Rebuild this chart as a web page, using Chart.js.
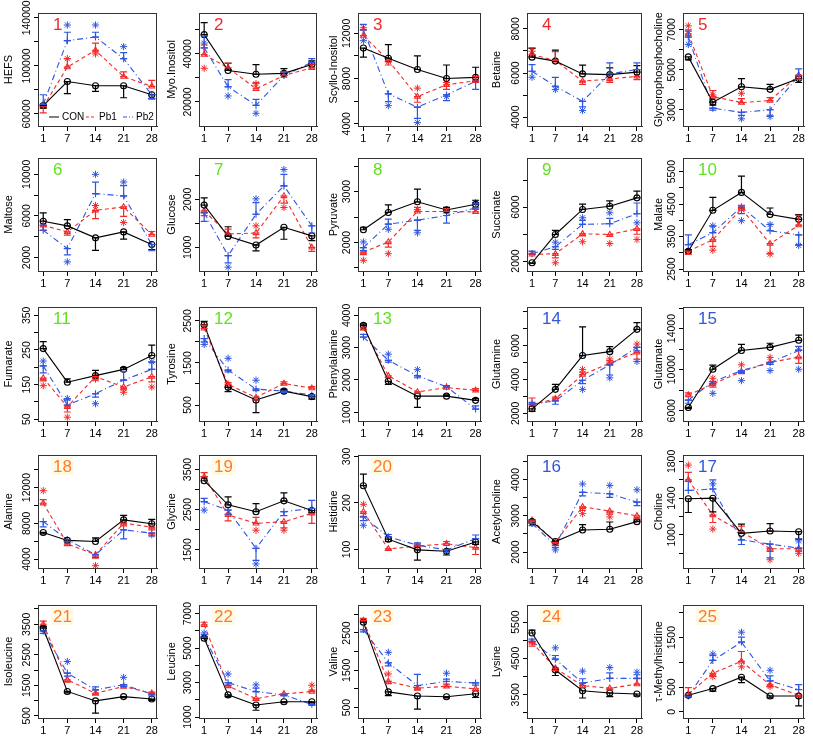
<!DOCTYPE html>
<html>
<head>
<meta charset="utf-8">
<script src="https://cdn.jsdelivr.net/npm/chart.js@4.4.0/dist/chart.umd.min.js"></script>
<style>
body{margin:0;background:#fff}
#wrap{position:relative;width:813px;height:738px;overflow:hidden}
.cell{position:absolute}
</style>
</head>
<body>
<div id="wrap"></div>
<script>
// days of sampling
const days = [1, 7, 14, 21, 28];
// panels in grid order (row by row)
const panelNo = [1,2,3,4,5, 6,7,8,9,10, 11,12,13,14,15, 18,19,20,16,17, 21,22,23,24,25];
const names = ['HEFS','Myo.Inositol','Scyllo-Inositol','Betaine','Glycerophosphocholine',
  'Maltose','Glucose','Pyruvate','Succinate','Malate',
  'Fumarate','Tyrosine','Phenylalanine','Glutamine','Glutamate',
  'Alanine','Glycine','Histidine','Acetylcholine','Choline',
  'Isoleucine','Leucine','Valine','Lysine','τ-Methylhistidine'];

const yMin = [50000,10000,3800,3600,2200, 700,510,1440,1260,2440, 45,120,730,1550,5000, 3000,1050,60,1560,640, 430,950,220,2860,-125];
const yMax = [144000,57000,13800,8720,7840, 11570,2860,3660,9650,5920, 374,2830,4260,8290,16100, 15650,3860,303,4680,1870, 4130,7500,3250,5970,2160];

const yTicks = [
  [60000,80000,100000,120000,140000],[20000,30000,40000,50000],[4000,6000,8000,10000,12000],[4000,5000,6000,7000,8000],[3000,4000,5000,6000,7000],
  [2000,4000,6000,8000,10000],[1000,1500,2000,2500],[1500,2000,2500,3000,3500],[2000,4000,6000,8000],[2500,3000,3500,4000,4500,5000,5500],
  [50,100,150,200,250,300,350],[500,1000,1500,2000,2500],[1000,2000,3000,4000],[2000,3000,4000,5000,6000,7000,8000],[6000,8000,10000,12000,14000,16000],
  [4000,6000,8000,10000,12000,14000],[1500,2000,2500,3000,3500],[100,200,300],[2000,2500,3000,3500,4000,4500],[800,1000,1200,1400,1600,1800],
  [500,1000,1500,2000,2500,3000,3500,4000],[1000,2000,3000,4000,5000,6000,7000],[500,1000,1500,2000,2500,3000],[3000,3500,4000,4500,5000,5500],[0,500,1000,1500,2000]
];
const yLabels = [
  ['60000','','100000','','140000'],['20000','','40000',''],['4000','','8000','','12000'],['4000','','6000','','8000'],['3000','','5000','','7000'],
  ['2000','','6000','','10000'],['1000','','2000',''],['','2000','','3000',''],['2000','','6000',''],['2500','','3500','','4500','','5500'],
  ['50','','150','','250','','350'],['500','','1500','','2500'],['1000','2000','3000','4000'],['2000','','4000','','6000','',''],['6000','','10000','','14000',''],
  ['4000','','8000','','12000',''],['1500','','2500','','3500'],['100','200','300'],['2000','','3000','','4000',''],['','1000','','1400','','1800'],
  ['500','','1500','','2500','','3500',''],['1000','','3000','','5000','','7000'],['500','','1500','','2500',''],['','3500','','4500','','5500'],['0','500','','1500','']
];

// CON
const conMean = [
  [67000,87000,83500,83500,76000],[48000,33100,31500,31900,35600],[10700,9800,8800,8000,8100],[6720,6540,5960,5930,6040],[5650,3390,4160,4030,4570],
  [5490,5040,3890,4460,3250],[1880,1230,1050,1420,1240],[2250,2590,2800,2640,2750],[1870,3970,5830,6070,6690],[3050,4310,4860,4180,4030],
  [254,157,176,194,234],[2410,920,620,830,700],[3690,1960,1500,1500,1370],[2270,3420,5420,5650,6970],[6320,10040,11870,12170,12860],
  [6980,6090,5970,8390,7950],[3220,2620,2450,2720,2480],[237,122,99,96,116],[2840,2290,2610,2630,2840],[1394,1400,1017,1043,1035],
  [3370,1300,990,1130,1050],[5570,2290,1700,1890,1890],[2790,920,810,790,870],[5200,4180,3610,3550,3520],[335,470,700,320,320]
];
const conErr = [
  [-2000,-10000,-4700,-10000,-3500],[5000,3000,4000,2000,1500],[-800,1200,1200,1200,900],[400,500,400,300,300],[-150,-150,400,250,-200],
  [800,600,-1200,-700,-500],[150,200,-120,-250,-100],[50,150,250,50,80],[-50,300,400,400,500],[50,400,500,200,150],
  [20,10,15,5,30],[80,-100,-300,40,-60],[50,-100,-350,40,50],[-150,300,1700,300,400],[-100,400,600,400,500],
  [-150,-100,400,500,500],[100,200,200,200,-50],[25,-5,-22,-8,-5],[50,-40,150,200,50],[-150,-150,100,80,-80],
  [50,-50,-400,-30,-40],[100,-100,-300,-50,-50],[50,-100,-350,-30,-100],[80,-150,-200,-100,-50],[-30,-50,-110,-40,-200]
];

// Pb1
const pb1Mean = [
  [66000,99000,113000,91000,83000],[39700,34200,25500,31000,34200],[11800,9600,6400,7450,7800],[6840,6570,5630,5730,5850],[6800,3670,3370,3470,4740],
  [5100,4460,6540,6860,4200],[1760,1280,1300,2070,1000],[1810,2010,2610,2610,2600],[2490,2540,4020,3970,4390],[3050,3400,4360,3280,3850],
  [169,86,173,143,173],[2320,990,680,1010,900],[3610,2130,1630,1765,1680],[2510,2860,4290,4970,5610],[7530,8600,9810,10700,11220],
  [10250,5710,4490,8020,7570],[3320,2370,2160,2200,2410],[181,101,107,112,104],[2880,2270,3250,3130,3000],[1600,1215,1035,850,850],
  [3500,1680,1240,1460,1240],[6350,2810,2070,2350,2480],[2830,1200,1020,1070,1000],[4940,4230,3750,3680,3790],[360,780,1020,545,335]
];
const pb1Err = [
  [-5000,7000,6000,4000,5000],[4000,2000,2500,1500,1500],[500,-400,-500,-400,400],[300,400,-150,-150,-150],[200,300,200,150,-200],
  [-500,-300,-800,-900,300],[-100,100,-100,-150,-80],[-50,-100,80,50,50],[200,-300,-150,-150,-400],[-100,-200,100,-300,300],
  [-8,-15,-10,-8,-15],[80,40,-60,40,40],[-60,-60,-40,50,50],[400,100,150,150,-400],[200,-300,-200,-200,-600],
  [400,-200,-400,-300,-300],[100,-150,150,-150,-250],[-10,-3,5,5,-15],[-40,-40,-100,-80,-80],[80,-80,60,-30,-30],
  [100,-80,-50,60,40],[150,-100,-100,-60,80],[60,-60,-50,60,-50],[-100,-60,-50,-40,150],[130,-60,200,-40,-30]
];
const pb1Star = [
  [null,106000,110000,null,null],[34000,null,27600,null,null],[12500,9500,7150,7650,null],[6990,null,null,null,null],[7200,3750,3830,null,null],
  [null,null,7000,5360,null],[null,null,1450,1830,null],[1650,1780,2650,null,null],[null,1870,3430,3300,3600],[null,3080,4400,2960,null],
  [147,56,166,128,143],[null,null,null,null,null],[null,null,null,null,null],[null,null,4600,5220,6100],[null,9160,10470,11190,11940],
  [11660,null,3260,null,6720],[null,null,1990,1990,null],[197,null,null,null,null],[null,null,3060,2970,null],[1760,1064,null,730,800],
  [null,null,null,null,null],[null,null,null,null,2850],[null,1400,null,null,null],[null,null,null,null,null],[null,710,910,510,null]
];

// Pb2
const pb2Mean = [
  [68000,121000,124000,106000,76000],[42500,26300,18600,31000,36500],[12300,6650,5470,6550,7750],[6080,5400,4720,5960,6160],[6640,3090,2880,3010,4700],
  [4620,2860,8140,7920,3250],[1720,830,1690,2280,1450],[1900,2360,2440,2530,2680],[2540,3060,4720,4770,5510],[3250,3620,4410,3680,3550],
  [204,91,124,163,194],[2080,1330,880,830,740],[3330,2610,2130,1790,1100],[2550,2740,3960,4870,5900],[7030,8830,9910,10700,11870],
  [8200,6160,4490,7270,6900],[2700,2490,1540,2450,2530],[170,127,109,99,123],[2790,2180,3650,3610,3380],[1484,1500,946,900,856],
  [3280,1900,1350,1520,1210],[5640,3000,2480,2290,1740],[2590,1700,1090,1200,1160],[4970,4480,3820,3950,3950],[320,1040,1410,625,450]
];
const pb2Err = [
  [8000,7000,4000,5000,-3000],[5000,3000,2500,1500,1500],[500,-700,-1000,-500,-700],[300,400,-250,500,300],[300,-100,-150,-300,350],
  [500,-600,1100,1000,-600],[-180,-150,240,240,-150],[-60,100,-200,-150,80],[200,-200,300,400,800],[300,200,-200,200,-300],
  [-20,15,-10,25,20],[-80,-40,-40,-30,-50],[80,-60,-60,40,100],[100,-200,-200,-600,-200],[-300,-200,-200,-200,400],
  [-600,-200,-300,-1000,-300],[80,-100,-300,-100,200],[-8,5,5,-5,8],[-60,-60,-100,-100,-100],[100,100,-50,-150,100],
  [-80,-100,100,-60,-60],[150,-150,200,-60,-60],[-60,-80,300,60,-60],[60,100,120,150,100],[-20,100,100,100,100]
];
const pb2Star = [
  [null,134000,134000,116000,null],[44500,22500,15300,null,null],[11350,5600,4100,6400,null],[5810,5250,4300,null,null],[6270,null,2560,2670,null],
  [null,1580,10000,9260,null],[null,590,2010,2620,null],[2010,2260,2190,null,2780],[null,3400,5210,5580,4840],[null,3830,3990,3870,3230],
  [218,110,95,null,216],[1940,1610,1090,null,null],[null,2800,2320,null,null],[null,null,3420,4100,5070],[null,7690,8930,9910,10040],
  [null,null,null,null,null],[2490,null,1150,null,null],[152,null,null,null,null],[null,2060,3880,3840,3720],[null,1556,null,null,935],
  [null,2280,null,1760,null],[5880,3500,2870,null,null],[null,1980,null,1420,null],[null,4790,4150,4250,4120],[null,1170,1610,840,null]
];

const colCON = '#000000', colPb1 = '#f22a2a', colPb2 = '#2d55e2';
const FONT = '"Liberation Sans", Arial, sans-serif';

function numColor(n) {
  if (n <= 5) return '#f0282d';
  if (n <= 13) return '#5fe31c';
  if (n <= 17) return '#2f57d8';
  return '#ff7a2e';
}

// layout of the 5x5 grid
const colEdges = [0, 163, 325, 488, 650, 813];
const rowEdges = [0, 148, 295, 443, 590, 738];
const leftW = [38, 36, 33, 39, 33];
const rightPad = [6, 8, 7, 8, 9];
const topPad = [13, 10, 12, 12, 15];
const botH = [22, 24, 22, 22, 20];

const errPlugin = {
  id: 'errbars',
  afterDatasetsDraw(chart) {
    const ctx = chart.ctx, xs = chart.scales.x, ys = chart.scales.y, a = chart.chartArea;
    ctx.save();
    ctx.beginPath();
    ctx.rect(a.left, a.top, a.right - a.left, a.bottom - a.top);
    ctx.clip();
    chart.data.datasets.forEach(ds => {
      if (!ds.errs) return;
      ctx.strokeStyle = ds.borderColor;
      ctx.lineWidth = 1.2;
      ctx.setLineDash([]);
      ds.data.forEach((p, i) => {
        const e = ds.errs[i];
        if (!e) return;
        const x = xs.getPixelForValue(p.x);
        const y0 = ys.getPixelForValue(p.y), y1 = ys.getPixelForValue(p.y + e);
        ctx.beginPath();
        ctx.moveTo(x, y0); ctx.lineTo(x, y1);
        ctx.moveTo(x - 3.5, y1); ctx.lineTo(x + 3.5, y1);
        ctx.moveTo(x - 3.5, y0); ctx.lineTo(x + 3.5, y0);
        ctx.stroke();
      });
    });
    ctx.restore();
  }
};

const decoPlugin = {
  id: 'deco',
  afterDraw(chart, args, opts) {
    const k = opts.k, ctx = chart.ctx, a = chart.chartArea, ys = chart.scales.y;
    ctx.save();
    // box
    ctx.strokeStyle = '#333';
    ctx.lineWidth = 1;
    ctx.setLineDash([]);
    ctx.strokeRect(Math.round(a.left) + 0.5, Math.round(a.top) + 0.5, Math.round(a.right - a.left) - 1, Math.round(a.bottom - a.top));
    // y tick labels, parallel to the axis
    ctx.fillStyle = '#000';
    ctx.font = '10.5px ' + FONT;
    ctx.textAlign = 'center';
    ctx.textBaseline = 'middle';
    yTicks[k].forEach((v, j) => {
      const t = yLabels[k][j];
      if (!t) return;
      const y = ys.getPixelForValue(v);
      ctx.save();
      ctx.translate(a.left - 11, y);
      ctx.rotate(-Math.PI / 2);
      ctx.fillText(t, 0, 0);
      ctx.restore();
    });
    // panel number
    const n = panelNo[k];
    ctx.font = '17px ' + FONT;
    ctx.textAlign = 'left';
    const tx = a.left + 15, ty = a.top + 11;
    if (n >= 18) {
      const w = ctx.measureText(String(n)).width;
      ctx.fillStyle = 'rgba(255,246,205,0.55)';
      ctx.fillRect(tx - 2, ty - 9, w + 4, 18);
    }
    ctx.fillStyle = numColor(n);
    ctx.fillText(String(n), tx, ty + 1);
    // legend in first panel
    if (k === 0) {
      const ly = a.bottom - 9;
      ctx.font = '10px ' + FONT;
      ctx.textBaseline = 'middle';
      const items = [['CON', colCON, []], ['Pb1', colPb1, [3, 2]], ['Pb2', colPb2, [4, 2, 1, 2]]];
      let x = a.left + 11;
      items.forEach(it => {
        ctx.strokeStyle = it[1];
        ctx.setLineDash(it[2]);
        ctx.lineWidth = 1;
        ctx.beginPath(); ctx.moveTo(x, ly); ctx.lineTo(x + 10, ly); ctx.stroke();
        ctx.fillStyle = '#000';
        ctx.fillText(it[0], x + 13, ly);
        x += 37;
      });
    }
    ctx.restore();
  }
};

function pts(arr) { return days.map((d, i) => ({x: d, y: arr[i]})); }

const wrap = document.getElementById('wrap');
names.forEach((name, k) => {
  const c = k % 5, r = Math.floor(k / 5);
  const div = document.createElement('div');
  div.className = 'cell';
  div.style.left = colEdges[c] + 'px';
  div.style.top = rowEdges[r] + 'px';
  div.style.width = (colEdges[c + 1] - colEdges[c]) + 'px';
  div.style.height = (rowEdges[r + 1] - rowEdges[r]) + 'px';
  const cv = document.createElement('canvas');
  div.appendChild(cv);
  wrap.appendChild(div);

  const series = [
    {m: conMean[k], e: conErr[k], s: null, col: colCON, dash: [], ps: 'circle', pr: 3},
    {m: pb1Mean[k], e: pb1Err[k], s: pb1Star[k], col: colPb1, dash: [4, 3], ps: 'triangle', pr: 3.2},
    {m: pb2Mean[k], e: pb2Err[k], s: pb2Star[k], col: colPb2, dash: [6, 3, 1, 3], ps: 'cross', pr: 3.5}
  ];
  const datasets = [];
  series.forEach(sr => {
    datasets.push({
      data: pts(sr.m), errs: sr.e,
      borderColor: sr.col, borderWidth: 1.1, borderDash: sr.dash,
      pointStyle: sr.ps, pointRadius: sr.pr, pointBorderColor: sr.col,
      pointBackgroundColor: 'rgba(0,0,0,0)', pointBorderWidth: 1.1,
      tension: 0, fill: false
    });
    if (sr.s) {
      datasets.push({
        data: pts(sr.s), showLine: false,
        borderColor: sr.col, pointStyle: 'star', pointRadius: 3.6,
        pointBorderColor: sr.col, pointBorderWidth: 1, pointBackgroundColor: sr.col
      });
    }
  });

  new Chart(cv, {
    type: 'line',
    data: {datasets},
    plugins: [errPlugin, decoPlugin],
    options: {
      responsive: true, maintainAspectRatio: false, animation: false,
      layout: {padding: {top: topPad[r], right: rightPad[c], left: 0, bottom: 0}},
      plugins: {legend: {display: false}, tooltip: {enabled: false}, deco: {k}},
      scales: {
        x: {
          type: 'linear', min: -0.3, max: 29.3,
          afterBuildTicks: s => { s.ticks = days.map(v => ({value: v})); },
          afterFit: s => { s.height = botH[r]; },
          ticks: {autoSkip: false, maxRotation: 0, color: '#000', padding: 1, font: {size: 11, family: FONT}},
          grid: {drawOnChartArea: false, drawTicks: true, tickLength: 5, color: '#000'},
          border: {display: true, color: '#333'}
        },
        y: {
          type: 'linear', min: yMin[k], max: yMax[k],
          afterBuildTicks: s => { s.ticks = yTicks[k].map(v => ({value: v})); },
          afterFit: s => { s.width = leftW[c]; },
          ticks: {display: false},
          grid: {drawOnChartArea: false, drawTicks: true, tickLength: 4, color: '#000'},
          border: {display: true, color: '#333'},
          title: {display: true, text: name, color: '#000', padding: {top: 2, bottom: 0}, font: {size: 11, family: FONT}}
        }
      }
    }
  });
});
</script>
</body>
</html>
